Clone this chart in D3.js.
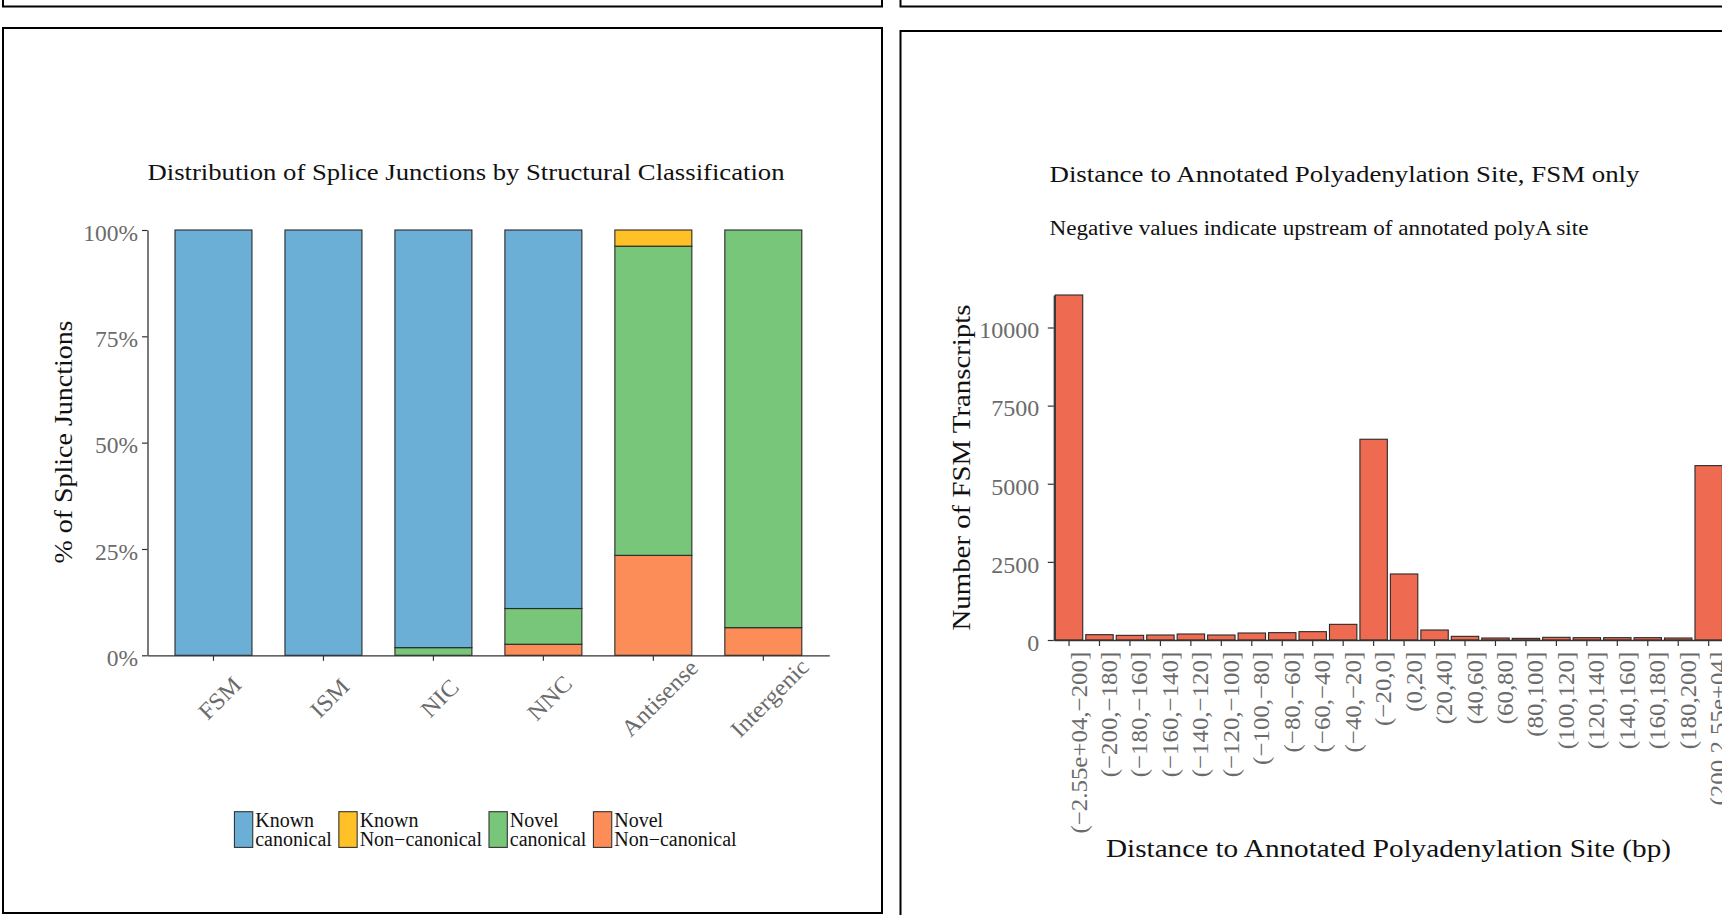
<!DOCTYPE html>
<html><head><meta charset="utf-8">
<script src="https://cdn.jsdelivr.net/npm/d3@7"></script>
<style>
body{margin:0;background:#fff}
svg{display:block}
text{font-family:"Liberation Serif","Times New Roman",serif}
</style>
</head><body>
<svg id="c" width="1722" height="915"></svg>
<script>
// ---------------- DATA ----------------
const sjCategories = ["FSM","ISM","NIC","NNC","Antisense","Intergenic"];
const sjKeys = ["novelNonCanonical","novelCanonical","knownNonCanonical","knownCanonical"]; // bottom -> top
const knownCanonical    = [100, 100, 98.2, 89.0, 0,    0];
const knownNonCanonical = [0,   0,   0,    0,    3.8,  0];
const novelCanonical    = [0,   0,   1.8,  8.4,  72.7, 93.5];
const novelNonCanonical = [0,   0,   0,    2.6,  23.5, 6.5];
const sjTickValues = [0, 0.25, 0.5, 0.75, 1];
const sjTickLabels = ["0%","25%","50%","75%","100%"];
const legendOrder = ["knownCanonical","knownNonCanonical","novelCanonical","novelNonCanonical"];
const legendLabels = [["Known","canonical"],["Known","Non\u2212canonical"],["Novel","canonical"],["Novel","Non\u2212canonical"]];
const sjColors = {knownCanonical:"#6BAED6", knownNonCanonical:"#FFC125", novelCanonical:"#78C679", novelNonCanonical:"#FC8D59"};

const polyABins = ["(\u22122.55e+04,\u2212200]","(\u2212200,\u2212180]","(\u2212180,\u2212160]","(\u2212160,\u2212140]","(\u2212140,\u2212120]","(\u2212120,\u2212100]","(\u2212100,\u221280]","(\u221280,\u221260]","(\u221260,\u221240]","(\u221240,\u221220]","(\u221220,0]","(0,20]","(20,40]","(40,60]","(60,80]","(80,100]","(100,120]","(120,140]","(140,160]","(160,180]","(180,200]","(200,2.55e+04]"];
const polyACounts = [11040,171,149,160,192,160,224,235,267,501,6424,2113,320,117,64,53,85,75,75,75,64,5580];
const polyATickValues = [0,2500,5000,7500,10000];
const polyATickLabels = ["0","2500","5000","7500","10000"];

// ---------------- DRAW ----------------
const svg = d3.select("#c");
const fit = (sel, w) => sel.attr("textLength", w).attr("lengthAdjust", "spacingAndGlyphs");
const widen = (sel, f) => sel.each(function(){ const n=this; d3.select(n).attr("textLength", n.getComputedTextLength()*f).attr("lengthAdjust","spacingAndGlyphs"); });

// panel frames (including bottoms of the row above)
const frames = svg.append("g").attr("fill","none").attr("stroke","#000").attr("stroke-width",2);
frames.append("rect").attr("x",3).attr("y",-20).attr("width",879).attr("height",26.5);
frames.append("rect").attr("x",900.5).attr("y",-20).attr("width",840).attr("height",26.5);
frames.append("rect").attr("x",3).attr("y",28).attr("width",879).attr("height",885);
frames.append("rect").attr("x",900.5).attr("y",31).attr("width",840).attr("height",900);

// ===== Left chart: splice junctions =====
const L = {x0:147.5, x1:829.3, y0:655.3, y1:230};
const xL = d3.scaleBand().domain(sjCategories).range([L.x0, L.x1]).paddingInner(0.3).paddingOuter(0.25);
const yL = d3.scaleLinear().domain([0,1]).range([L.y0, L.y1]);
const rows = sjCategories.map((c,i)=>({cat:c, knownCanonical:knownCanonical[i]/100, knownNonCanonical:knownNonCanonical[i]/100, novelCanonical:novelCanonical[i]/100, novelNonCanonical:novelNonCanonical[i]/100}));
const stacked = d3.stack().keys(sjKeys)(rows);

const gL = svg.append("g");
gL.selectAll("g.layer").data(stacked).join("g").attr("class","layer")
  .attr("fill", d=>sjColors[d.key])
  .selectAll("rect").data(d=>d.filter(s=>s[1]-s[0]>0)).join("rect")
  .attr("x", d=>xL(d.data.cat)).attr("width", xL.bandwidth())
  .attr("y", d=>yL(d[1])).attr("height", d=>yL(d[0])-yL(d[1]))
  .attr("stroke","#2a2a2a").attr("stroke-width",1.1);

// axes
const axL = gL.append("g").attr("transform",`translate(${L.x0},0)`)
  .call(d3.axisLeft(yL).tickValues(sjTickValues).tickFormat((d,i)=>sjTickLabels[i]).tickSize(5.5).tickPadding(4).tickSizeOuter(0));
axL.select(".domain").attr("stroke","#333").attr("stroke-width",1.3);
axL.selectAll(".tick line").attr("stroke","#333").attr("stroke-width",1.2);
axL.selectAll(".tick text").attr("fill","#6b6b6b").attr("font-size",23.5).attr("font-family","Liberation Serif").attr("dy","0.43em");

const axLb = gL.append("g").attr("transform",`translate(0,${L.y0})`)
  .call(d3.axisBottom(xL).tickSize(5.5).tickSizeOuter(0));
axLb.select(".domain").attr("stroke","#333").attr("stroke-width",1.3);
axLb.selectAll(".tick line").attr("stroke","#333").attr("stroke-width",1.2);
axLb.selectAll(".tick text").attr("fill","#6b6b6b").attr("font-size",23.5).attr("font-family","Liberation Serif")
  .attr("text-anchor","middle").attr("y",0).attr("dy","0.32em")
  .attr("transform","translate(6.5,43) rotate(-45)");
widen(axLb.selectAll(".tick text"), 1.05);

// title & y title
fit(svg.append("text").attr("x",147.5).attr("y",180).attr("font-size",24).attr("fill","#111")
  .text("Distribution of Splice Junctions by Structural Classification"), 637);
fit(svg.append("text").attr("transform","translate(71.5,442) rotate(-90)").attr("text-anchor","middle")
  .attr("font-size",25).attr("fill","#111").text("% of Splice Junctions"), 243);

// legend
const lg = svg.append("g");
const items = lg.selectAll("g").data(legendOrder).join("g");
items.append("rect").attr("width",18.3).attr("height",35.7).attr("y",811.7)
  .attr("fill",d=>sjColors[d]).attr("stroke","#333").attr("stroke-width",1.1);
items.each(function(d,i){
  const g = d3.select(this);
  legendLabels[i].forEach((t,j)=>{
    g.append("text").attr("x",20.8).attr("y",826.7+j*19.3).attr("font-size",20).attr("fill","#111").text(t);
  });
});
let widths = [];
items.each(function(){ const w = d3.max(d3.select(this).selectAll("text").nodes(), n=>n.getComputedTextLength()); widths.push(20.8+w); });
const gap = 7;
const total = d3.sum(widths) + gap*(widths.length-1);
let cx = 485.5 - total/2;
items.each(function(d,i){ d3.select(this).attr("transform",`translate(${cx},0)`); cx += widths[i]+gap; });

// ===== Right chart: polyA distance =====
const step = 30.46;
const R = {x0:1053.8, y0:640, y1:295};
const xR = d3.scaleBand().domain(polyABins).range([R.x0, R.x0 + step*polyABins.length]).paddingInner(0.1).paddingOuter(0.05);
const yR = d3.scaleLinear().domain([0, d3.max(polyACounts)]).range([R.y0, R.y1]);
const gR = svg.append("g");
gR.selectAll("rect").data(polyABins).join("rect")
  .attr("x", d=>xR(d)).attr("width", xR.bandwidth())
  .attr("y", (d,i)=>yR(polyACounts[i])).attr("height", (d,i)=>yR(0)-yR(polyACounts[i]))
  .attr("fill","#EE6A50").attr("stroke","#2a2a2a").attr("stroke-width",1.1);

const axR = gR.append("g").attr("transform",`translate(${R.x0},0)`)
  .call(d3.axisLeft(yR).tickValues(polyATickValues).tickFormat((d,i)=>polyATickLabels[i]).tickSize(6).tickPadding(8.5).tickSizeOuter(0));
axR.select(".domain").attr("stroke","#333").attr("stroke-width",1.3);
axR.selectAll(".tick line").attr("stroke","#333").attr("stroke-width",1.2);
axR.selectAll(".tick text").attr("fill","#6b6b6b").attr("font-size",24).attr("font-family","Liberation Serif").attr("dy","0.43em");

const axRb = gR.append("g").attr("transform",`translate(0,${R.y0})`)
  .call(d3.axisBottom(xR).tickSize(6).tickSizeOuter(0));
axRb.select(".domain").attr("stroke","#333").attr("stroke-width",1.3);
axRb.selectAll(".tick line").attr("stroke","#333").attr("stroke-width",1.2);
axRb.selectAll(".tick text").attr("fill","#6b6b6b").attr("font-size",23.5).attr("font-family","Liberation Serif")
  .attr("text-anchor","end").attr("transform","rotate(-90)").attr("x",-11.7).attr("y",17.5).attr("dy",0);
widen(axRb.selectAll(".tick text"), 1.06);

fit(svg.append("text").attr("x",1049.5).attr("y",181.5).attr("font-size",24).attr("fill","#111")
  .text("Distance to Annotated Polyadenylation Site, FSM only"), 590);
fit(svg.append("text").attr("x",1049.5).attr("y",235).attr("font-size",20).attr("fill","#111")
  .text("Negative values indicate upstream of annotated polyA site"), 539);
fit(svg.append("text").attr("transform","translate(970,467.5) rotate(-90)").attr("text-anchor","middle")
  .attr("font-size",25).attr("fill","#111").text("Number of FSM Transcripts"), 326);
fit(svg.append("text").attr("x",1388.5).attr("y",857).attr("text-anchor","middle")
  .attr("font-size",25).attr("fill","#111").text("Distance to Annotated Polyadenylation Site (bp)"), 565);
</script>
</body></html>
